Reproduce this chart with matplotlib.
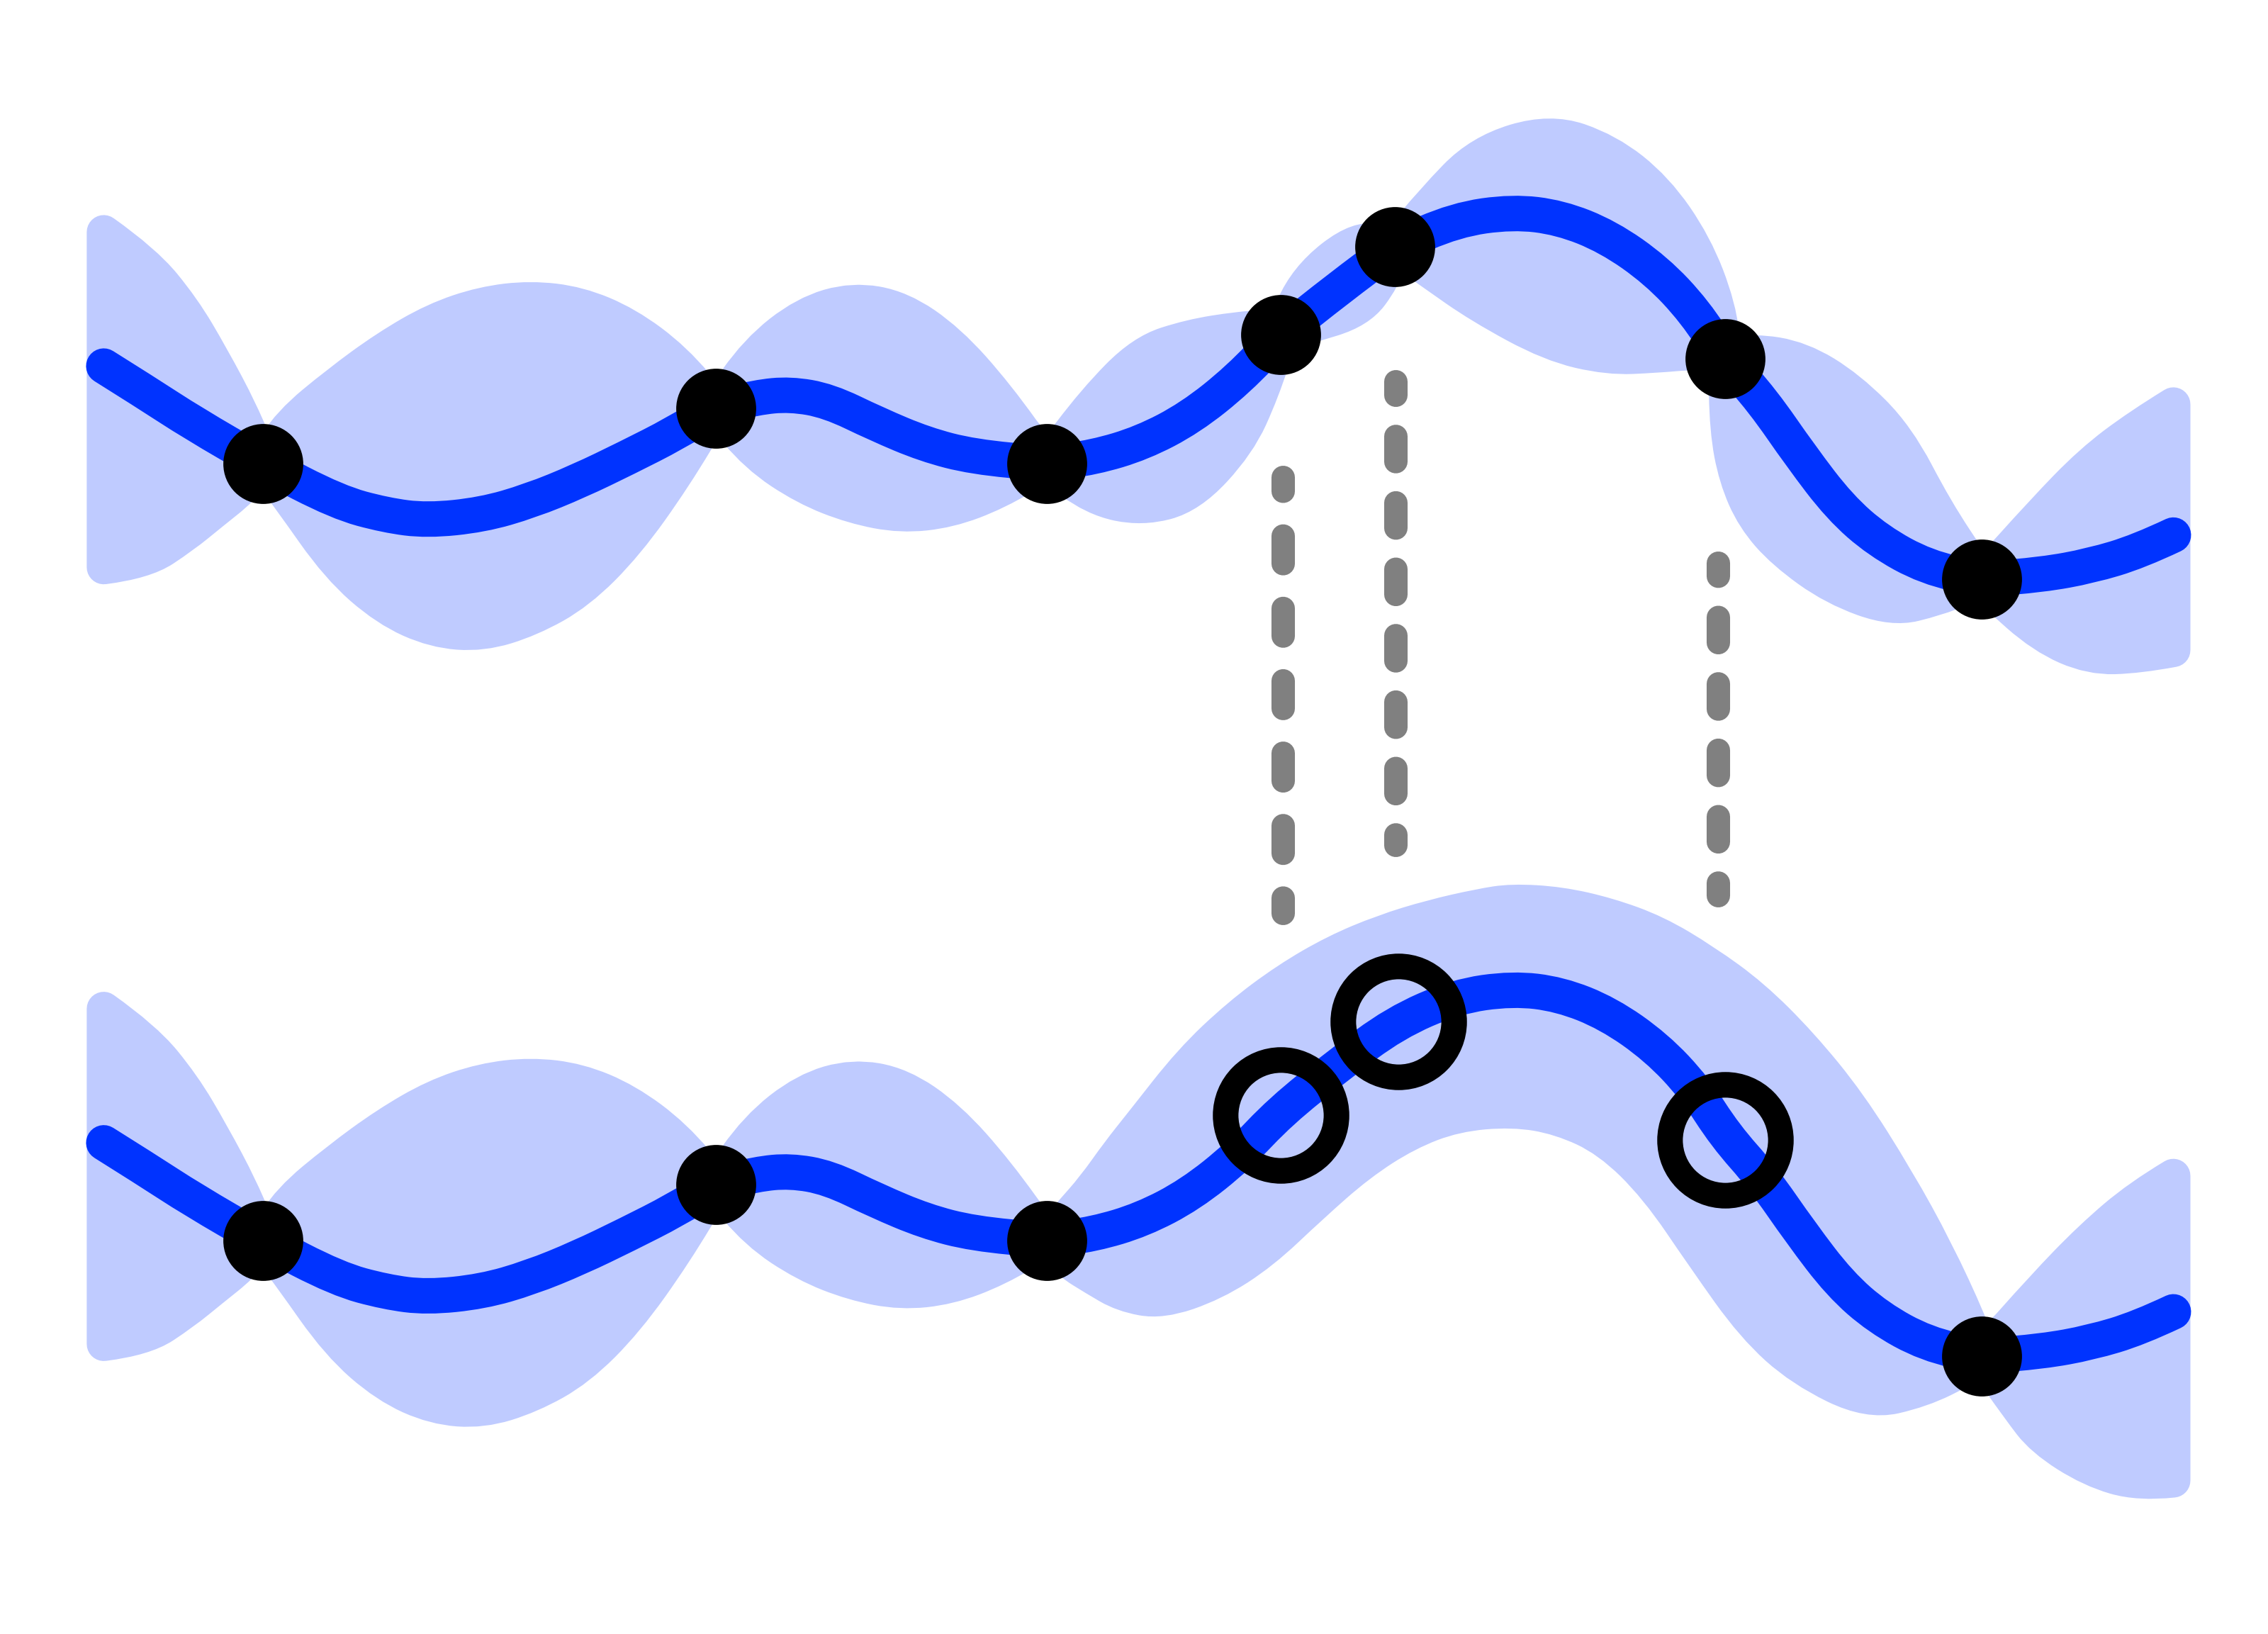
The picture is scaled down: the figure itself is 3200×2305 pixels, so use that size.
import matplotlib.pyplot as plt
from matplotlib.path import Path
from matplotlib.patches import PathPatch

# posterior mean (same in both panels)
mean_x = [0.000, 0.198, 0.431, 0.769, 1.130, 1.363, 1.561, 1.829, 2.062, 2.295,
          2.528, 2.761, 2.959, 3.153, 3.316, 3.502, 3.735, 3.968, 4.201, 4.555,
          4.784, 5.017, 5.250, 5.483, 5.688, 5.963, 6.238, 6.532, 6.807, 7.036,
          7.269, 7.502, 7.689, 7.835, 8.015, 8.201, 8.388, 8.574, 8.807, 9.073,
          9.366, 9.600, 9.833, 10.000]
mean_y = [0.418, 0.237, 0.016, -0.270, -0.542, -0.634, -0.671, -0.631, -0.532, -0.393,
          -0.229, -0.056, 0.122, 0.197, 0.220, 0.173, 0.009, -0.134, -0.222, -0.270,
          -0.226, -0.124, 0.054, 0.326, 0.642, 0.962, 1.262, 1.449, 1.506, 1.466,
          1.330, 1.091, 0.800, 0.469, 0.173, -0.219, -0.576, -0.814, -1.001, -1.087,
          -1.053, -0.991, -0.889, -0.774]

# observations
obs_x = [0.769, 2.959, 4.555, 5.688, 6.238, 7.835, 9.073]
obs_y = [-0.270, 0.122, -0.270, 0.642, 1.262, 0.469, -1.087]
keep = [0, 1, 2, 6]  # points still observed in the lower panel

# pending points (hollow circles, lower panel)
new_x = [5.688, 6.254, 7.835]
new_y = [0.615, 1.275, 0.441]

# dashed drop lines
drop_x = [5.696, 6.240, 7.801]
drop_top = [-0.367, 0.309, -0.969]
drop_bot = [-3.438, -2.960, -3.317]

# confidence band, upper panel
top_up_x = [0, 0.198, 0.384, 0.524, 0.664, 0.769, 0.897, 1.130, 1.363, 1.596,
            1.829, 2.062, 2.295, 2.528, 2.761, 2.959, 3.153, 3.386, 3.619, 3.852,
            4.085, 4.318, 4.555, 4.784, 5.017, 5.250, 5.483, 5.599, 5.688, 5.807,
            6.066, 6.238, 6.415, 6.648, 6.989, 7.269, 7.502, 7.689, 7.805, 7.835,
            7.968, 8.201, 8.434, 8.667, 8.854, 9.040, 9.073, 9.366, 9.600, 9.833, 10.0]
top_up_y = [1.363, 1.158, 0.828, 0.482, 0.098, -0.270, 0.018, 0.300, 0.548, 0.745,
            0.860, 0.900, 0.860, 0.718, 0.465, 0.122, 0.525, 0.791, 0.890, 0.830,
            0.596, 0.214, -0.270, 0.173, 0.519, 0.629, 0.682, 0.692, 0.642, 1.040,
            1.335, 1.262, 1.578, 1.930, 2.080, 1.940, 1.670, 1.275, 0.835, 0.469,
            0.529, 0.473, 0.265, -0.075, -0.597, -1.005, -1.087, -0.610, -0.258, -0.002, 0.148]
top_lo_x = [0, 0.198, 0.384, 0.524, 0.664, 0.769, 0.897, 1.130, 1.363, 1.596,
            1.829, 2.062, 2.295, 2.528, 2.761, 2.959, 3.153, 3.386, 3.619, 3.852,
            4.085, 4.318, 4.555, 4.784, 5.017, 5.250, 5.483, 5.599, 5.688, 5.807,
            6.066, 6.182, 6.238, 6.415, 6.648, 6.989, 7.269, 7.502, 7.689, 7.800,
            7.835, 7.841, 7.885, 7.971, 8.115, 8.358, 8.644, 8.854, 8.991, 9.073,
            9.133, 9.366, 9.600, 9.833, 10.0]
top_lo_y = [-1.001, -0.964, -0.785, -0.618, -0.455, -0.270, -0.517, -1.000, -1.297, -1.450,
            -1.475, -1.370, -1.180, -0.839, -0.361, 0.122, -0.215, -0.441, -0.575, -0.640,
            -0.604, -0.475, -0.270, -0.519, -0.590, -0.500, -0.133, 0.240, 0.642, 0.690,
            0.806, 1.033, 1.262, 1.078, 0.840, 0.570, 0.475, 0.490, 0.514, 0.490,
            0.469, -0.030, -0.370, -0.655, -0.895, -1.150, -1.300, -1.225, -1.145, -1.087,
            -1.189, -1.490, -1.640, -1.630, -1.585]

# lower panel band: same as upper up to the third observation, then wider
n_same = 23
bot_up_x = top_up_x[:n_same] + [4.667, 4.784, 4.900, 5.017, 5.250, 5.483, 5.716, 5.949,
                                 6.182, 6.415, 6.648, 6.803, 7.036, 7.269, 7.502, 7.735,
                                 7.968, 8.201, 8.434, 8.667, 8.854, 9.017, 9.073, 9.366,
                                 9.600, 9.833, 10.0]
bot_up_y = top_up_y[:n_same] + [-0.084, 0.110, 0.349, 0.563, 0.996, 1.317, 1.570, 1.767,
                                 1.909, 2.013, 2.090, 2.125, 2.105, 2.028, 1.904, 1.701,
                                 1.454, 1.115, 0.699, 0.159, -0.337, -0.850, -1.087, -0.604,
                                 -0.251, 0.039, 0.185]
bot_lo_x = top_lo_x[:n_same] + [4.667, 4.784, 4.923, 5.110, 5.366, 5.599, 5.832, 6.066,
                                 6.298, 6.532, 6.807, 7.036, 7.269, 7.502, 7.735, 7.968,
                                 8.201, 8.527, 8.784, 8.994, 9.073, 9.250, 9.366, 9.600,
                                 9.833, 10.0]
bot_lo_y = top_lo_y[:n_same] + [-0.430, -0.537, -0.655, -0.705, -0.576, -0.357, -0.035, 0.266,
                                 0.484, 0.615, 0.650, 0.594, 0.436, 0.102, -0.399, -0.876,
                                 -1.183, -1.415, -1.329, -1.178, -1.087, -1.453, -1.674, -1.891,
                                 -1.990, -1.964]

blue = '#0033FF'
band = '#BFCBFF'


def curve(xs, ys):
    # quadratic bezier chain using the read points as control points
    pts = list(zip(xs, ys))
    verts, codes = [], []
    n = len(pts)
    for i in range(1, n - 1):
        if i == n - 2:
            end = pts[-1]
        else:
            end = ((pts[i][0] + pts[i + 1][0]) / 2, (pts[i][1] + pts[i + 1][1]) / 2)
        verts += [pts[i], end]
        codes += [Path.CURVE3] * 2
    return pts[0], verts, codes


fig = plt.figure(figsize=(16, 11.525), dpi=200)
ax_top = fig.add_axes([0, 0.52464, 1, 0.47536])
ax_bot = fig.add_axes([0, 0.04928, 1, 0.47536])


def draw_panel(ax, up_x, up_y, lo_x, lo_y):
    start, v_up, c_up = curve(up_x, up_y)
    lo_start, v_lo, c_lo = curve(lo_x[::-1], lo_y[::-1])
    verts = [start] + v_up + [lo_start] + v_lo + [start]
    codes = [Path.MOVETO] + c_up + [Path.LINETO] + c_lo + [Path.CLOSEPOLY]
    ax.add_patch(PathPatch(Path(verts, codes), facecolor=band, edgecolor=band,
                           linewidth=17.3, joinstyle='round', zorder=1))

    m0, v_m, c_m = curve(mean_x, mean_y)
    ax.add_patch(PathPatch(Path([m0] + v_m, [Path.MOVETO] + c_m), fill=False,
                           edgecolor=blue, linewidth=18, capstyle='round',
                           joinstyle='round', zorder=3))
    ax.set_xlim(-0.50135, 10.4572)
    ax.set_ylim(-2.4785, 3.0)
    ax.set_facecolor('none')
    ax.axis('off')


draw_panel(ax_top, top_up_x, top_up_y, top_lo_x, top_lo_y)
ax_top.plot(obs_x, obs_y, 'o', color='black', markersize=39.6, zorder=5)

draw_panel(ax_bot, bot_up_x, bot_up_y, bot_lo_x, bot_lo_y)
ax_bot.plot([obs_x[i] for i in keep], [obs_y[i] for i in keep], 'o',
            color='black', markersize=39.6, zorder=5)
ax_bot.plot(new_x, new_y, 'o', markerfacecolor='none', markeredgecolor='black',
            markersize=56.3, markeredgewidth=13, zorder=5)

# dash patterns (offset, (on, off)) in units of line width
patterns = [(0.59, (1.18, 1.91)), (0.50, (1.076, 1.758)), (0.52, (1.076, 1.758))]
for x, y0, y1, ls in zip(drop_x, drop_top, drop_bot, patterns):
    ax_top.plot([x, x], [y0, y1], color='#808080', linewidth=11.9, linestyle=ls,
                dash_capstyle='round', clip_on=False, zorder=2)

fig.savefig('out.png', dpi=200, facecolor='white')
